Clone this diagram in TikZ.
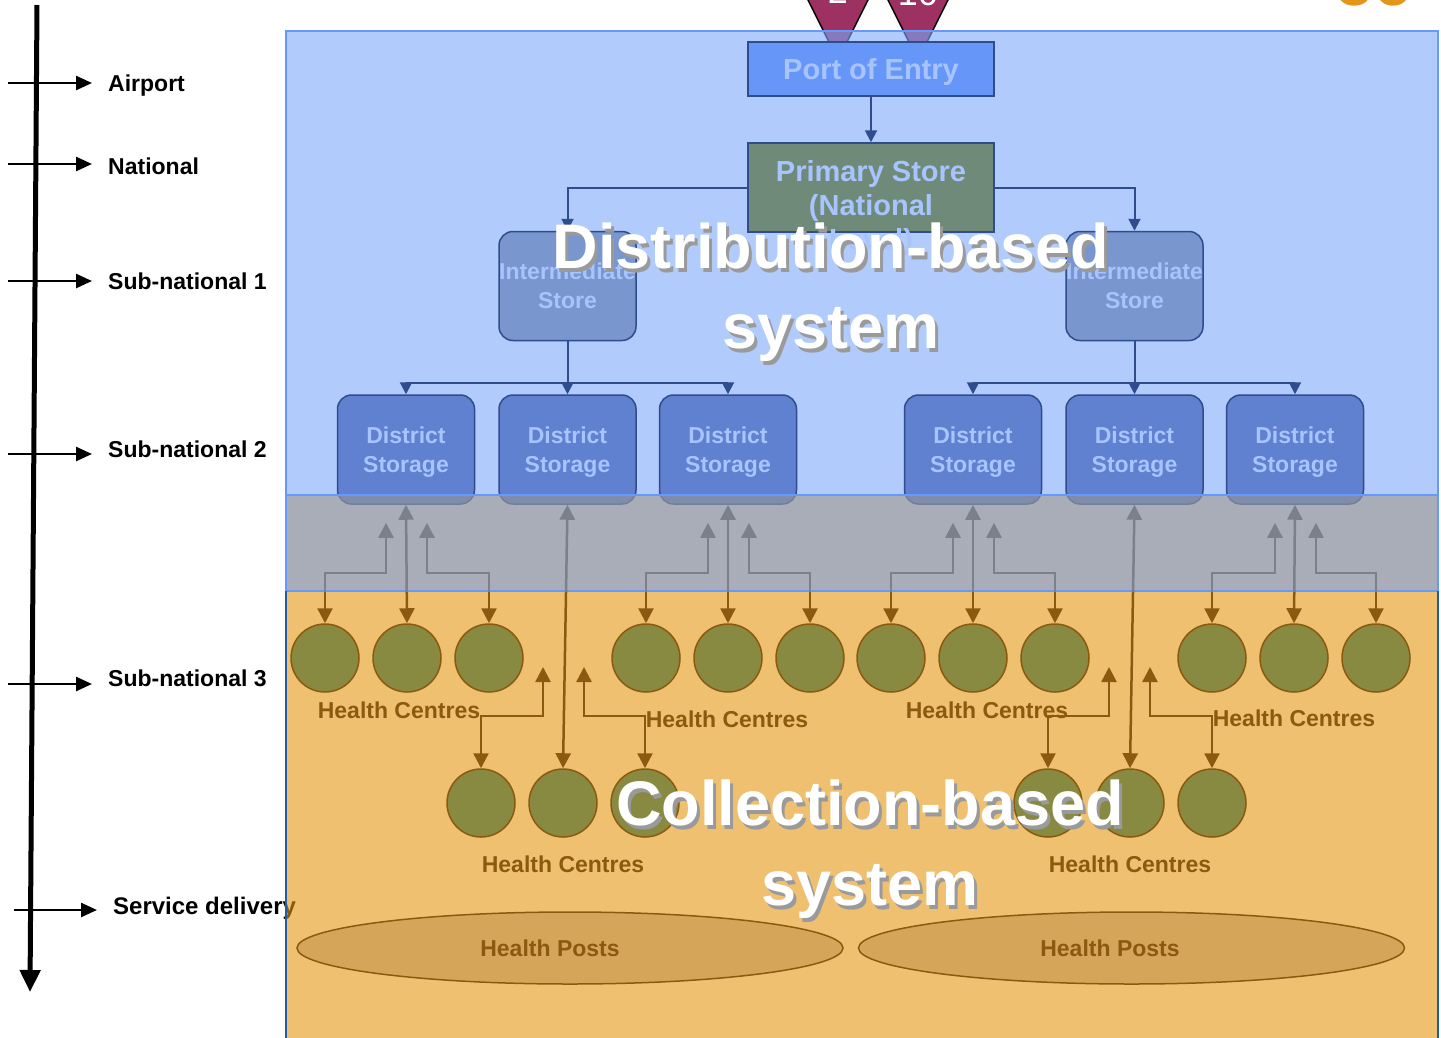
\documentclass[tikz,border=0pt]{standalone}
\usepackage{fontspec}
\setmainfont{Liberation Sans}
\usepackage{xcolor}
\usepackage{tikz}
\usetikzlibrary{arrows.meta,positioning,shapes.geometric}

\definecolor{tripink}{HTML}{9C3162}
\definecolor{regionblue}{HTML}{7BA8FA}
\definecolor{regionedge}{HTML}{6699FF}
\definecolor{portfill}{HTML}{6697F8}
\definecolor{primaryfill}{HTML}{708A7A}
\definecolor{interfill}{HTML}{7A96CE}
\definecolor{distfill}{HTML}{6080D0}
\definecolor{boxline}{HTML}{2F4C8C}
\definecolor{boxtext}{HTML}{A8C4FF}
\definecolor{bandgray}{HTML}{8B91A0}
\definecolor{orangefill}{HTML}{E39611}
\definecolor{hcbrown}{HTML}{8B5A10}
\definecolor{hcgreen}{HTML}{878A40}
\definecolor{postfill}{HTML}{D5A65A}
\definecolor{linkgray}{HTML}{7A808C}
\definecolor{edgedark}{HTML}{1F5F9F}
\definecolor{logoorange}{HTML}{E3961A}
\definecolor{shadowgray}{HTML}{9A9A9A}

\newcommand\hclinks{%
  \foreach \d/\a/\b/\c in {d1/h1/h2/h3, d3/h4/h5/h6, d4/h7/h8/h9, d6/h10/h11/h12}{
    \draw[link] (\b.north) -- (\d.south);
    \draw[link] (\a.north) |- ([shift={(-20,68)}]\d.south) -- ([shift={(-20,18)}]\d.south);
    \draw[link] (\c.north) |- ([shift={(21,68)}]\d.south) -- ([shift={(21,18)}]\d.south);
  }
  \draw[link] (g2.north) -- (d2.south);
  \draw[link] (g5.north) -- (d5.south);
  \foreach \g/\u in {g1/up1, g3/up2, g4/up3, g6/up4}
    \draw[link] (\g.north) |- ([shift={(0,49)}]\u) -- (\u);
}

\begin{document}
\begin{tikzpicture}[x=1pt, y=-1pt,
    store/.style={draw=boxline, line width=1.5pt, text=boxtext, align=center,
                  font=\fontsize{23}{29}\selectfont\bfseries, inner sep=0pt},
    bigstore/.style={store, minimum width=246pt,
                     font=\fontsize{29}{34}\selectfont\bfseries},
    inter/.style={store, rounded corners=14pt, fill=interfill,
                  minimum width=137pt, minimum height=109pt},
    district/.style={store, rounded corners=14pt, fill=distfill, text depth=0pt,
                     minimum width=137pt, minimum height=109pt},
    centre/.style={circle, draw=hcbrown, line width=1.5pt, fill=hcgreen,
                   minimum size=68pt, inner sep=0pt},
    hclabel/.style={text=hcbrown, font=\fontsize{23}{28}\selectfont\bfseries},
    hpost/.style={ellipse, draw=hcbrown, line width=1.5pt, fill=postfill,
                  minimum width=546pt, minimum height=72pt},
    tier/.style={anchor=west, inner sep=8pt,
                 font=\fontsize{23}{28}\selectfont\bfseries},
    tierarrow/.style={-{Triangle[length=16pt,width=14pt]}, line width=2.5pt,
                      shorten >=8pt},
    feed/.style={-{Triangle[length=12pt,width=12pt]}, line width=2pt, draw=boxline},
    link/.style={{Triangle[length=15pt,width=15pt]}-{Triangle[length=15pt,width=15pt]},
                 line width=2.5pt, hcbrown},
    banner/.style={align=center, inner sep=0pt,
                   font=\fontsize{63}{80}\selectfont\bfseries}
]
\useasboundingbox (0,0) rectangle (1441,1037);
\clip (0,0) rectangle (1441,1037);

\draw[fill=tripink, line width=1.5pt] (793,-30) -- (883,-30) -- (838,60) -- cycle;
\draw[fill=tripink, line width=1.5pt] (873,-30) -- (963,-30) -- (918,60) -- cycle;
\node[anchor=base, text=white, font=\fontsize{36}{36}\selectfont] (numtwo) at (838,3) {2};
\node[anchor=base, text=white, font=\fontsize{36}{36}\selectfont] (numten) at (918,5) {10};
\node[anchor=base west, inner sep=0pt, text=logoorange,
      font=\fontsize{66}{66}\selectfont\bfseries] (logo) at (1334,5) {oc};

\coordinate (axistop) at (37,5);
\coordinate (axisend) at (30,992);
\draw[line width=5pt, -{Triangle[length=22pt,width=20pt]}] (axistop) -- (axisend);
\foreach \y/\ly/\n/\t in {83/86/airport/Airport, 164/166/national/National,
    281/281/subone/Sub-national 1, 454/449/subtwo/Sub-national 2,
    684/678/subthree/Sub-national 3}{
  \node[tier] (\n) at (100,\ly) {\t};
  \coordinate (\n tail) at (8,\y);
  \draw[tierarrow] (\n tail) -- (\n tail -| \n.west);
}
\node[tier, font=\fontsize{24}{28}\selectfont\bfseries] (service) at (105,908) {Service delivery};
\coordinate (servicetail) at (14,910);
\draw[tierarrow] (servicetail) -- (servicetail -| service.west);

\draw[regionedge, line width=1.5pt, fill=regionblue, fill opacity=0.6]
  (286,31) rectangle (1438,495);

\node[bigstore, fill=portfill, minimum height=54pt, text depth=0pt] (port) at (871,69) {Port of Entry};
\node[bigstore, fill=primaryfill, minimum height=89pt] (primary) at (871,187.5) {};
\node[anchor=north, align=center, inner sep=0pt, text=boxtext,
      font=\fontsize{29}{34}\selectfont\bfseries] (primarytext) at (871,160)
      {Primary Store\\(National\\Level)};
\node[inter] (inter1) at (567.5,286) {Intermediate\\Store};
\node[inter] (inter2) at (1134.5,286) {Intermediate\\Store};
\foreach \x [count=\i] in {406,567.5,728,973,1134.5,1295}
  \node[district] (d\i) at (\x,449.5) {District\\Storage};

\draw[feed] (port) -- (primary);
\draw[feed] (primary.west) -| (inter1.north);
\draw[feed] (primary.east) -| (inter2.north);
\coordinate (bus1) at (567.5,383);
\coordinate (bus2) at (1134.5,383);
\foreach \d in {1,2,3}
  \draw[feed] (inter1.south) -- (bus1) -| (d\d.north);
\foreach \d in {4,5,6}
  \draw[feed] (inter2.south) -- (bus2) -| (d\d.north);

\fill[bandgray, opacity=0.75] (286,495) rectangle (1438,591);
\fill[orangefill, fill opacity=0.6] (286,591) rectangle (1438,1045);
\draw[regionedge, line width=1.5pt] (286,495) rectangle (1438,591);
\draw[edgedark, line width=1.5pt] (286,591) -- (286,1045) (1438,591) -- (1438,1045);

\foreach \x [count=\i] in {325,407,489,646,728,810,891,973,1055,1212,1294,1376}
  \node[centre] (h\i) at (\x,658) {};
\foreach \x [count=\i] in {481,563,645,1048,1130,1212}
  \node[centre] (g\i) at (\x,803) {};
\foreach \x/\y [count=\i] in {399/710, 727/719, 987/710, 1294/718, 563/864, 1130/864}
  \node[hclabel] (hctext\i) at (\x,\y) {Health Centres};

\node[hpost] (post1) at (570,948) {};
\node[hclabel] (posttext1) at (550,948) {Health Posts};
\node[hpost] (post2) at (1131.5,948) {};
\node[hclabel] (posttext2) at (1110,948) {Health Posts};

\coordinate (up1) at (543,667);
\coordinate (up2) at (584,667);
\coordinate (up3) at (1109,667);
\coordinate (up4) at (1150,667);
\begin{scope}
  \clip (286,591) rectangle (1438,1037);
  \hclinks
\end{scope}
\begin{scope}[link/.append style={linkgray}]
  \clip (286,495) rectangle (1438,591);
  \hclinks
\end{scope}

\node[banner, text=shadowgray] (distshadow) at (834,296) {Distribution-based\\system};
\node[banner, text=white] (distbanner) at (831,292) {Distribution-based\\system};
\node[banner, text=shadowgray] (collshadow) at (873,853) {Collection-based\\system};
\node[banner, text=white] (collbanner) at (870,849) {Collection-based\\system};
\end{tikzpicture}
\end{document}
